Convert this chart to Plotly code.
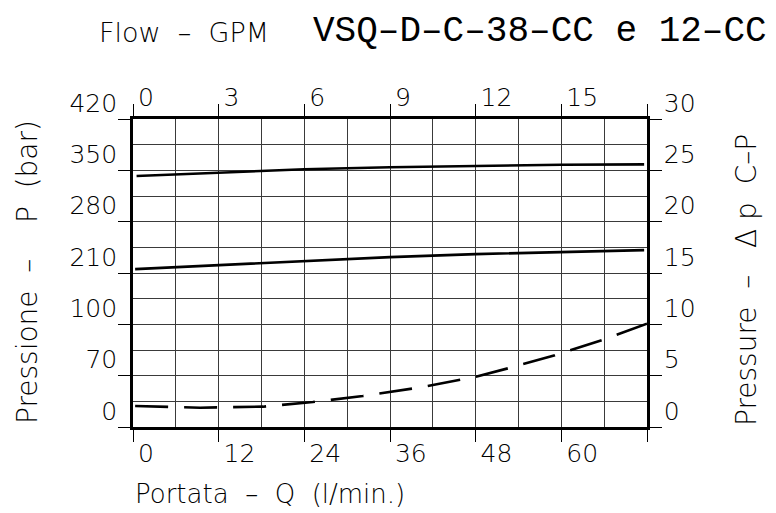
import plotly.graph_objects as go

# ---- data (flow in l/min, pressure in right-axis units 0..30) ----
flow_upper = [0.5, 12, 24, 36, 48, 60, 71.6]
p_upper = [24.45, 24.8, 25.1, 25.3, 25.45, 25.55, 25.58]

flow_lower = [0.3, 12, 24, 36, 48, 60, 71.6]
p_lower = [15.38, 15.75, 16.13, 16.55, 16.84, 17.04, 17.23]

flow_dp = [0.3, 9.4, 18.2, 25.2, 32.2, 40, 48, 52.5, 59.1, 65.7, 72]
dp_vals = [2.04, 1.88, 1.98, 2.43, 3.02, 3.83, 4.9, 5.71, 6.98, 8.47, 10.06]

x_ticks = [0, 12, 24, 36, 48, 60, 72]
x_ticktext = ["0", "12", "24", "36", "48", "60", ""]
gpm_ticks = [0, 3, 6, 9, 12, 15, 18]
gpm_ticktext = ["0", "3", "6", "9", "12", "15", ""]
right_ticks = [0, 5, 10, 15, 20, 25, 30]
right_ticktext = ["0", "5", "10", "15", "20", "25", "30"]
left_ticktext = ["0", "70", "100", "210", "280", "350", "420"]

FONT = "DejaVu Sans"
TICKF = dict(family=FONT, size=25, color="black", weight=200)
TXT = dict(family=FONT, size=26, color="black", weight=200)
VTXT = dict(family=FONT, size=28, color="black", weight=200)
GRID = "#3a3a3a"
S = "\u00a0"  # non-breaking space

fig = go.Figure()
fig.add_trace(go.Scatter(x=flow_upper, y=p_upper, mode="lines",
                         line=dict(color="black", width=2.6), showlegend=False))
fig.add_trace(go.Scatter(x=flow_lower, y=p_lower, mode="lines",
                         line=dict(color="black", width=2.6), showlegend=False))
fig.add_trace(go.Scatter(x=flow_dp, y=dp_vals, mode="lines",
                         line=dict(color="black", width=2.6, dash="33px,16px"),
                         showlegend=False))
# invisible trace to activate secondary axes
fig.add_trace(go.Scatter(x=[0], y=[0], xaxis="x2", yaxis="y2", mode="markers",
                         marker=dict(opacity=0), showlegend=False, hoverinfo="skip"))

common_x = dict(ticks="outside", ticklen=12, tickwidth=1.2, tickcolor="black",
                showline=True, linecolor="black", linewidth=2.6,
                tickfont=TICKF, zeroline=False, automargin=False)

fig.update_layout(
    width=776, height=513,
    margin=dict(l=133, r=129, t=119, b=86),
    paper_bgcolor="white", plot_bgcolor="white",
    xaxis=dict(range=[0, 72], tickvals=x_ticks, ticktext=x_ticktext,
               showgrid=True, gridcolor=GRID, gridwidth=1.2,
               minor=dict(dtick=6, showgrid=True, gridcolor=GRID, gridwidth=1.2),
               ticklabelposition="outside right", ticklabelshift=3,
               ticklabelstandoff=2, **common_x),
    xaxis2=dict(range=[0, 18], overlaying="x", side="top",
                tickvals=gpm_ticks, ticktext=gpm_ticktext, showgrid=False,
                ticklabelposition="outside right", ticklabelshift=3,
                ticklabelstandoff=0, **common_x),
    yaxis=dict(range=[0, 30], tickvals=right_ticks, ticktext=left_ticktext,
               showgrid=True, gridcolor=GRID, gridwidth=1.2,
               minor=dict(dtick=2.5, showgrid=True, gridcolor=GRID, gridwidth=1.2),
               ticklabelposition="outside top", ticklabelshift=2,
               ticklabelstandoff=8, **common_x),
    yaxis2=dict(range=[0, 30], overlaying="y", side="right",
                tickvals=right_ticks, ticktext=right_ticktext, showgrid=False,
                ticklabelposition="outside top", ticklabelshift=2,
                ticklabelstandoff=9, **common_x),
)

annotations = [
    dict(text=f"Flow{S*2}–{S*2}GPM", x=97, y=33,
         font=dict(family=FONT, size=27, color="black", weight=200), xanchor="left"),
    dict(text="VSQ–D–C–38–CC e 12–CC", x=311, y=31,
         font=dict(family="Liberation Mono", size=36, color="black"), xanchor="left"),
    dict(text=f"Portata{S*2}–{S*2}Q{S*2}(l/min.)", x=133, y=494, font=TXT, xanchor="left"),
    dict(text=f"Pressione{S*2}–{S*4}P{S*2}(bar)", x=27, y=272, font=VTXT, textangle=-90),
    dict(text=f"Pressure{S*2}–{S*3}Δ{S}p{S*2}C–P", x=746, y=280, font=VTXT, textangle=-90),
]
for a in annotations:
    # convert pixel positions to paper coordinates
    px, py = a.pop("x"), a.pop("y")
    a["x"] = (px - 133) / (776 - 133 - 129)
    a["y"] = 1 - (py - 119) / (513 - 119 - 86)
    a.update(xref="paper", yref="paper", showarrow=False, yanchor="middle")
    a.setdefault("xanchor", "center")
fig.update_layout(annotations=annotations)

fig.write_html("out.html", post_script="document.body.style.margin='0';",
               config={"displayModeBar": False})
